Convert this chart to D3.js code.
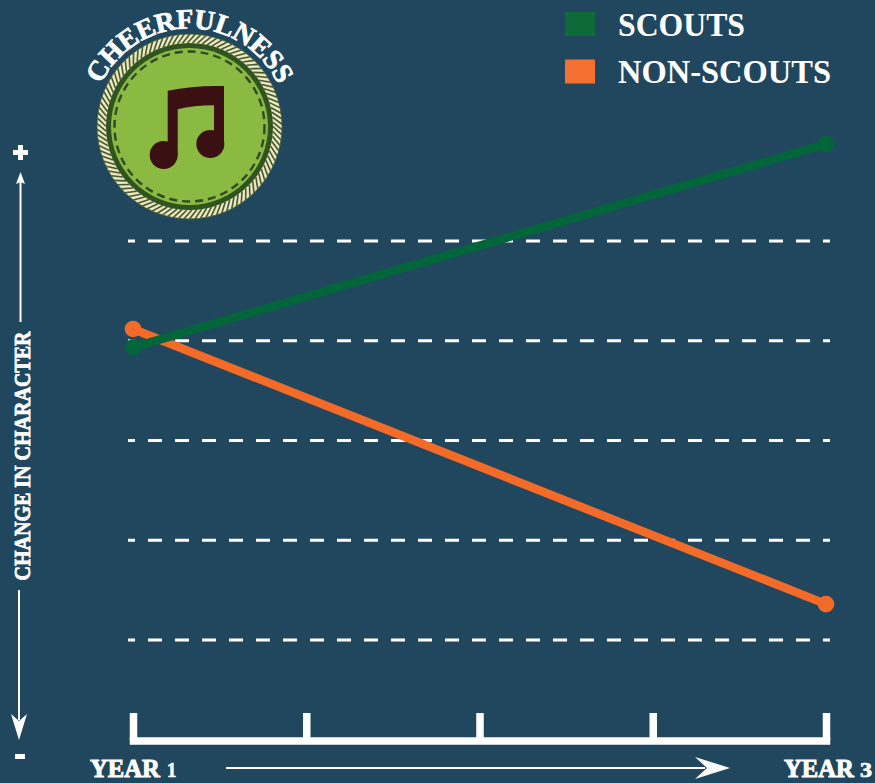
<!DOCTYPE html>
<html><head><meta charset="utf-8">
<script src="https://cdn.jsdelivr.net/npm/d3@7"></script>
<style>html,body{margin:0;padding:0;background:#21475f;overflow:hidden}svg{display:block}</style>
</head><body><svg id="c" width="875" height="783"></svg>
<script>
const steps = [0, 1, 2, 3, 4];
const stepWords = ["YEAR", "YEAR"];
const stepDigits = ["1", "3"];
const gridValues = [2, 1, 0, -1, -2];
const seriesNames = ["SCOUTS", "NON-SCOUTS"];
const legendColors = ["#0d6b38", "#f57033"];
const lineColors = ["#02663a", "#f46b27"];
const scoutsValues = [0.934, 2.972];
const nonScoutsValues = [1.118, -1.64];
const seriesSteps = [0, 4];
const badgeTitle = "CHEERFULNESS";
const yTitle = "CHANGE IN CHARACTER";

const bg = "#21475f", white = "#ffffff";
const serif = "'Liberation Serif', serif";
const svg = d3.select("#c");
svg.append("rect").attr("width", 875).attr("height", 783).attr("fill", bg);

const x = d3.scaleLinear().domain([0, 4]).range([133, 826]);
const y = d3.scaleLinear().domain([0, 2]).range([440.5, 241]);

// gridlines
svg.append("g").selectAll("line").data(gridValues).join("line")
  .attr("x1", 128).attr("x2", 830)
  .attr("y1", d => y(d)).attr("y2", d => y(d))
  .attr("stroke", white).attr("stroke-width", 3)
  .attr("stroke-dasharray", "14 13").attr("stroke-dashoffset", 7);

// x axis
const axis = d3.axisTop(x).tickValues(steps).tickFormat("").tickSizeInner(27.5).tickSizeOuter(0);
const ax = svg.append("g").attr("transform", "translate(0,740.5)").call(axis);
ax.select(".domain").attr("stroke", white).attr("stroke-width", 7.5).attr("stroke-linecap", "square");
ax.selectAll(".tick line").attr("stroke", white).attr("stroke-width", 7.5);

// year labels
const wordX = [90, 784], digitX = [167, 860], digitScale = [0.85, 1.1];
stepWords.forEach((w, i) => {
  svg.append("text").attr("transform", `translate(${wordX[i]},777) scale(0.95,1)`).text(w)
    .attr("font-family", serif).attr("font-weight", 700).attr("font-size", 26).attr("fill", white)
    .attr("stroke", white).attr("stroke-width", 1);
  svg.append("text").attr("transform", `translate(${digitX[i]},777) scale(${digitScale[i]},1)`).text(stepDigits[i])
    .attr("font-family", serif).attr("font-weight", 700).attr("font-size", 22).attr("fill", white)
    .attr("stroke", white).attr("stroke-width", 0.7);
});

// series lines
const lineGen = d3.line().x((d, i) => x(seriesSteps[i])).y(d => y(d));
[[nonScoutsValues, 1], [scoutsValues, 0]].forEach(([vals, c]) => {
  const g = svg.append("g");
  g.append("path").attr("d", lineGen(vals)).attr("fill", "none")
    .attr("stroke", lineColors[c]).attr("stroke-width", 8.5);
  g.selectAll("circle").data(vals).join("circle")
    .attr("cx", (d, i) => x(seriesSteps[i])).attr("cy", d => y(d)).attr("r", 8.3)
    .attr("fill", lineColors[c]);
});

// legend
seriesNames.forEach((n, i) => {
  const top = 12 + i * 47.5;
  svg.append("rect").attr("x", 565).attr("y", top).attr("width", 30).attr("height", 24)
    .attr("fill", legendColors[i]);
  svg.append("text").attr("x", 618).attr("y", top + 23.5).text(n)
    .attr("font-family", serif).attr("font-weight", 700)
    .attr("font-size", 34).attr("fill", white)
    .attr("textLength", i ? 213 : 127).attr("lengthAdjust", "spacingAndGlyphs");
});

// y arrows & title
const arrows = svg.append("g").attr("stroke", white).attr("stroke-width", 2).attr("fill", white);
arrows.append("line").attr("x1", 20.5).attr("x2", 20.5).attr("y1", 322).attr("y2", 180);
arrows.append("path").attr("stroke", "none").attr("d", "M20.5,172 L25,184 L20.5,182 L16,184 Z");
arrows.append("line").attr("x1", 19).attr("x2", 19).attr("y1", 590).attr("y2", 720);
arrows.append("path").attr("stroke", "none").attr("d", "M19,740 L11,714 L19,721 L27,714 Z");
arrows.append("line").attr("x1", 226).attr("x2", 705).attr("y1", 768).attr("y2", 768);
arrows.append("path").attr("stroke", "none").attr("d", "M730,768 L695,757 L707,768 L695,779 Z");
svg.append("path").attr("fill", white).attr("d", "M18,145 h5 v5 h5 v5 h-5 v5 h-5 v-5 h-5 v-5 h5 Z");
svg.append("rect").attr("x", 15).attr("y", 754).attr("width", 10).attr("height", 5).attr("fill", white);

svg.append("text").attr("transform", "translate(29.5,580.5) rotate(-90)").text(yTitle)
  .attr("font-family", serif).attr("font-weight", 700).attr("font-size", 24).attr("fill", white)
  .attr("stroke", white).attr("stroke-width", 0.8)
  .attr("textLength", 249).attr("lengthAdjust", "spacingAndGlyphs");

// badge
const cx = 189.5, cy = 126.5;
const badge = svg.append("g").attr("transform", `translate(${cx},${cy})`);
badge.append("circle").attr("r", 92.5).attr("fill", "#efe6bc");
const rope = badge.append("g").attr("stroke", "#3f5a34").attr("stroke-width", 1.6);
d3.range(0, 360, 3.4).forEach(a => {
  const r = a * Math.PI / 180, r2 = (a + 5) * Math.PI / 180;
  rope.append("line")
    .attr("x1", 83.5 * Math.cos(r)).attr("y1", 83.5 * Math.sin(r))
    .attr("x2", 92.5 * Math.cos(r2)).attr("y2", 92.5 * Math.sin(r2));
});
badge.append("circle").attr("r", 92.5).attr("fill", "none").attr("stroke", "#3f5a34").attr("stroke-width", 0.8);
badge.append("circle").attr("r", 83.5).attr("fill", "#2f5420");
badge.append("circle").attr("r", 78.5).attr("fill", "#8aba41");
badge.append("circle").attr("r", 75).attr("fill", "none").attr("stroke", "#2e4a26")
  .attr("stroke-width", 2.4).attr("stroke-dasharray", "8 5");
const note = (px, py) => [px / 3 + 70 - cx, py / 3 - cy];
const p = (a, b) => note(a, b).map(v => v.toFixed(1)).join(",");
badge.append("path").attr("fill", "#3b1012").attr("d",
  `M${p(293,272)} Q${p(370,256)} ${p(462,258)} L${p(462,432)} L${p(432,432)} L${p(432,316)} Q${p(370,316)} ${p(323,328)} L${p(323,465)} L${p(293,465)} Z`);
[[421, 432], [281, 465]].forEach(([a, b]) => {
  const [hx, hy] = note(a, b);
  badge.append("circle").attr("cx", hx).attr("cy", hy).attr("r", 14).attr("fill", "#3b1012");
});
const arcR = 98;
const arc = d3.path();
arc.arc(0, 0, arcR, -Math.PI * 0.5 - 1.4, -Math.PI * 0.5 + 1.4);
svg.append("defs").append("path").attr("id", "badgeArc").attr("d", arc.toString());
badge.append("text").attr("font-family", serif).attr("font-weight", 700).attr("font-size", 28)
  .attr("letter-spacing", -0.4).attr("stroke", white).attr("stroke-width", 0.7)
  .attr("fill", white).attr("text-anchor", "middle")
  .append("textPath").attr("href", "#badgeArc").attr("startOffset", "50%").text(badgeTitle);
</script></body></html>
